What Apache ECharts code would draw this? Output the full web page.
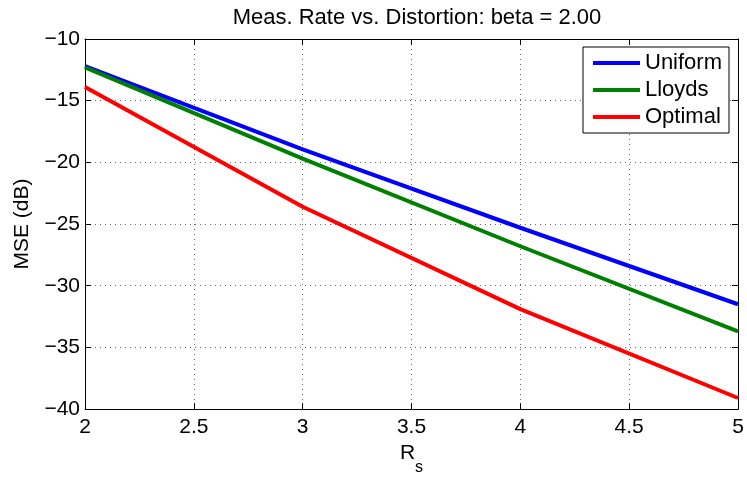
<!DOCTYPE html>
<html>
<head>
<meta charset="utf-8">
<script src="https://cdn.jsdelivr.net/npm/echarts@6/dist/echarts.min.js"></script>
<style>
html,body{margin:0;padding:0;background:#fff;}
#c{width:747px;height:481px;}
</style>
</head>
<body>
<div id="c"></div>
<script>
const rates = [2, 3, 4, 5];
const uniform = [-12.2, -18.95, -25.3, -31.5];
const lloyds = [-12.3, -19.7, -26.8, -33.7];
const optimal = [-13.9, -23.6, -31.9, -39.1];
const seriesNames = ['Uniform', 'Lloyds', 'Optimal'];
const titleText = 'Meas. Rate vs. Distortion: beta = 2.00';

const FONT = '"Liberation Sans", Arial, Helvetica, sans-serif';
const chart = echarts.init(document.getElementById('c'), null, {renderer: 'canvas'});
const pair = (xs, ys) => xs.map((x, i) => [x, ys[i]]);
const minus = v => String(v).replace('-', '\u2212');

const gridLine = {show: true, lineStyle: {color: '#666', type: [1, 4], width: 1}};
const option = {
  animation: false,
  backgroundColor: '#fff',
  textStyle: {fontFamily: FONT},
  title: {
    text: titleText, left: 412, top: 2, textAlign: 'center',
    textStyle: {fontFamily: FONT, fontSize: 22, fontWeight: 'normal', color: '#000'}
  },
  grid: {left: 85, right: 9, top: 39, bottom: 62, containLabel: false},
  legend: {
    data: seriesNames,
    orient: 'vertical',
    left: 583, top: 47,
    padding: [5, 7, 5, 10],
    itemGap: 5,
    itemWidth: 47, itemHeight: 4,
    icon: 'rect',
    borderColor: '#000', borderWidth: 1, backgroundColor: '#fff',
    textStyle: {fontFamily: FONT, fontSize: 22, color: '#000', lineHeight: 22}
  },
  xAxis: [{
    type: 'value', min: 2, max: 5, interval: 0.5,
    name: '{r|R}{s|s}', nameLocation: 'middle', nameGap: 30,
    nameTextStyle: {
      color: '#000',
      rich: {
        r: {fontFamily: FONT, fontSize: 21, color: '#000', lineHeight: 33, verticalAlign: 'top'},
        s: {fontFamily: FONT, fontSize: 16, color: '#000', lineHeight: 33, verticalAlign: 'bottom'}
      }
    },
    axisLine: {show: true, lineStyle: {color: '#000', width: 1}},
    axisTick: {show: true, inside: true, length: 6, lineStyle: {color: '#000'}},
    axisLabel: {fontFamily: FONT, fontSize: 21, color: '#000', margin: 8},
    splitLine: gridLine
  }, {
    type: 'value', min: 2, max: 5, interval: 0.5, position: 'top',
    axisLine: {show: true, lineStyle: {color: '#000', width: 1}},
    axisTick: {show: true, inside: true, length: 6, lineStyle: {color: '#000'}},
    axisLabel: {show: false}, splitLine: {show: false}
  }],
  yAxis: [{
    type: 'value', min: -40, max: -10, interval: 5,
    name: 'MSE (dB)', nameLocation: 'middle', nameGap: 52,
    nameTextStyle: {fontFamily: FONT, fontSize: 21, color: '#000'},
    axisLine: {show: true, lineStyle: {color: '#000', width: 1}},
    axisTick: {show: true, inside: true, length: 6, lineStyle: {color: '#000'}},
    axisLabel: {fontFamily: FONT, fontSize: 21, color: '#000', margin: 5, formatter: minus},
    splitLine: gridLine
  }, {
    type: 'value', min: -40, max: -10, interval: 5, position: 'right',
    axisLine: {show: true, lineStyle: {color: '#000', width: 1}},
    axisTick: {show: true, inside: true, length: 6, lineStyle: {color: '#000'}},
    axisLabel: {show: false}, splitLine: {show: false}
  }],
  series: [
    {name: seriesNames[0], type: 'line', data: pair(rates, uniform), symbol: 'none',
     lineStyle: {color: '#0000ff', width: 4}, itemStyle: {color: '#0000ff'}},
    {name: seriesNames[1], type: 'line', data: pair(rates, lloyds), symbol: 'none',
     lineStyle: {color: '#008000', width: 4}, itemStyle: {color: '#008000'}},
    {name: seriesNames[2], type: 'line', data: pair(rates, optimal), symbol: 'none',
     lineStyle: {color: '#ff0000', width: 4}, itemStyle: {color: '#ff0000'}}
  ]
};
chart.setOption(option);
</script>
</body>
</html>
